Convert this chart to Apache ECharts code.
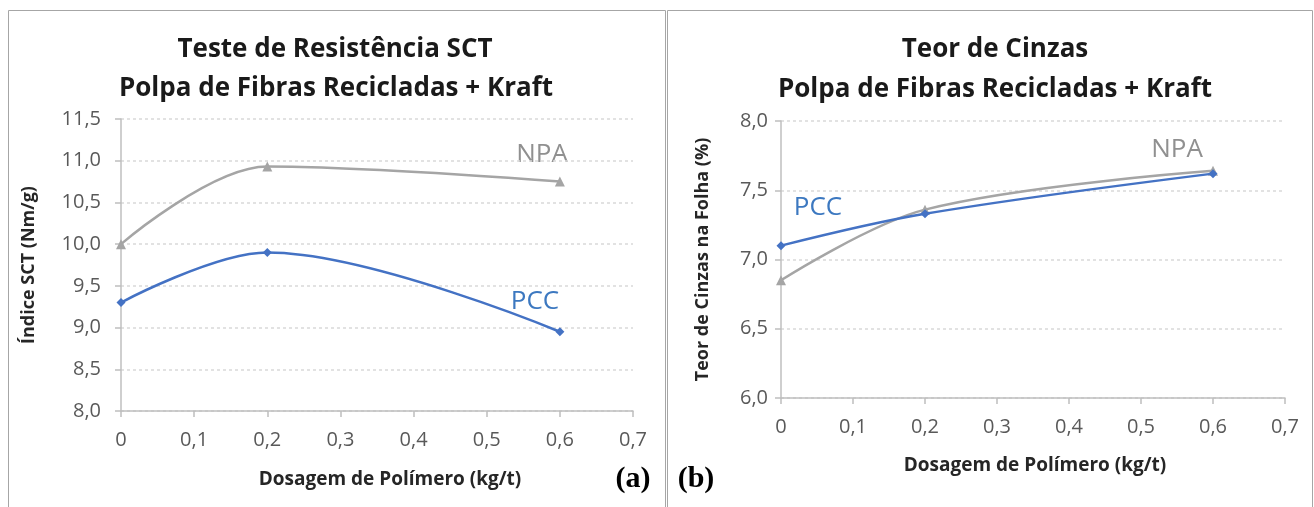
<!DOCTYPE html>
<html><head><meta charset="utf-8">
<script src="https://cdn.jsdelivr.net/npm/echarts@6/dist/echarts.min.js"></script>
<style>html,body{margin:0;padding:0;background:#fff}#c{width:1314px;height:507px}</style>
</head><body><div id="c"></div>
<script>
const doses = [0, 0.2, 0.6];
const sctPCC = [9.3, 9.9, 8.95];
const sctNPA = [10.0, 10.93, 10.75];
const ashPCC = [7.1, 7.33, 7.62];
const ashNPA = [6.85, 7.36, 7.64];
const titleA = ['Teste de Resistência SCT', 'Polpa de Fibras Recicladas + Kraft'];
const titleB = ['Teor de Cinzas', 'Polpa de Fibras Recicladas + Kraft'];
const xName = 'Dosagem de Polímero (kg/t)';
const yNameA = 'Índice SCT (Nm/g)';
const yNameB = 'Teor de Cinzas na Folha (%)';

const FONT = '"Open Sans", "Liberation Sans", sans-serif';
const BLUE = '#4472C4', GRAY = '#A5A5A5';
const pairs = (xs, ys) => xs.map((x, i) => [x, ys[i]]);
const fmtX = v => v === 0 ? '0' : v.toFixed(1).replace('.', ',');
const fmtY = v => v.toFixed(1).replace('.', ',');

function xAx(gi) {
  return {
    type: 'value', gridIndex: gi, min: 0, max: 0.7, interval: 0.1,
    axisLine: { show: true, lineStyle: { color: '#BFBFBF', width: 1.5 } },
    axisTick: { show: true, length: 6, lineStyle: { color: '#BFBFBF', width: 1.5 } },
    axisLabel: { formatter: fmtX, color: '#595959', fontSize: 20, fontFamily: FONT, margin: 19 },
    splitLine: { show: false }
  };
}
function yAx(gi, min, max, name, gap, lm) {
  return {
    type: 'value', gridIndex: gi, min: min, max: max, interval: 0.5,
    name: name, nameLocation: 'middle', nameGap: gap,
    nameTextStyle: { fontFamily: FONT, fontWeight: 'bold', fontSize: 18, color: '#262626' },
    axisLine: { show: true, lineStyle: { color: '#BFBFBF', width: 1.5 } },
    axisTick: { show: true, length: 6, lineStyle: { color: '#BFBFBF', width: 1.5 } },
    axisLabel: { formatter: fmtY, color: '#595959', fontSize: 20, fontFamily: FONT, margin: lm },
    splitLine: { show: true, lineStyle: { color: '#D9D9D9', type: [3, 3], width: 1.5 } }
  };
}
function ser(gi, data, color, symbol, size) {
  return {
    type: 'line', xAxisIndex: gi, yAxisIndex: gi, data: data, smooth: 0.35,
    symbol: symbol, symbolSize: size, lineStyle: { color: color, width: 2.5 },
    itemStyle: { color: color }, z: color === BLUE ? 3 : 2
  };
}
function txt(x, y, text, size, color, weight, family, align) {
  return { type: 'text', x: x, y: y, style: { text: text, fontSize: size, fill: color,
    fontWeight: weight || 'normal', fontFamily: family || FONT, align: align || 'center', verticalAlign: 'middle' } };
}

const chart = echarts.init(document.getElementById('c'));
chart.setOption({
  animation: false,
  backgroundColor: '#fff',
  grid: [
    { left: 121, top: 119, width: 512, height: 292 },
    { left: 781, top: 121, width: 504, height: 277 }
  ],
  xAxis: [xAx(0), xAx(1)],
  yAxis: [yAx(0, 8, 11.5, yNameA, 83, 20), yAx(1, 6, 8, yNameB, 69, 13)],
  series: [
    ser(0, pairs(doses, sctNPA), GRAY, 'triangle', 10),
    ser(0, pairs(doses, sctPCC), BLUE, 'diamond', 9),
    ser(1, pairs(doses, ashNPA), GRAY, 'triangle', 10),
    ser(1, pairs(doses, ashPCC), BLUE, 'diamond', 9)
  ],
  graphic: [
    { type: 'rect', shape: { x: 8.5, y: 10.5, width: 657, height: 500 }, style: { fill: 'none', stroke: '#A6A6A6', lineWidth: 1 }, silent: true },
    { type: 'rect', shape: { x: 667.5, y: 10.5, width: 645, height: 500 }, style: { fill: 'none', stroke: '#A6A6A6', lineWidth: 1 }, silent: true },
    txt(335, 50, titleA[0], 26, '#1a1a1a', 'bold'),
    txt(336, 89, titleA[1], 26, '#1a1a1a', 'bold'),
    txt(995, 50, titleB[0], 26, '#1a1a1a', 'bold'),
    txt(995, 90, titleB[1], 26, '#1a1a1a', 'bold'),
    txt(390, 480, xName, 19, '#262626', 'bold'),
    txt(1035, 466, xName, 19, '#262626', 'bold'),
    txt(542, 155, 'NPA', 26, '#909090'),
    txt(535, 302, 'PCC', 26, '#3C78C0'),
    txt(1177, 150, 'NPA', 26, '#909090'),
    txt(818, 208, 'PCC', 26, '#3C78C0'),
    txt(633, 479, '(a)', 30, '#000', 'bold', '"Liberation Serif", "DejaVu Serif", serif'),
    txt(696, 479, '(b)', 30, '#000', 'bold', '"Liberation Serif", "DejaVu Serif", serif')
  ]
});
</script></body></html>
